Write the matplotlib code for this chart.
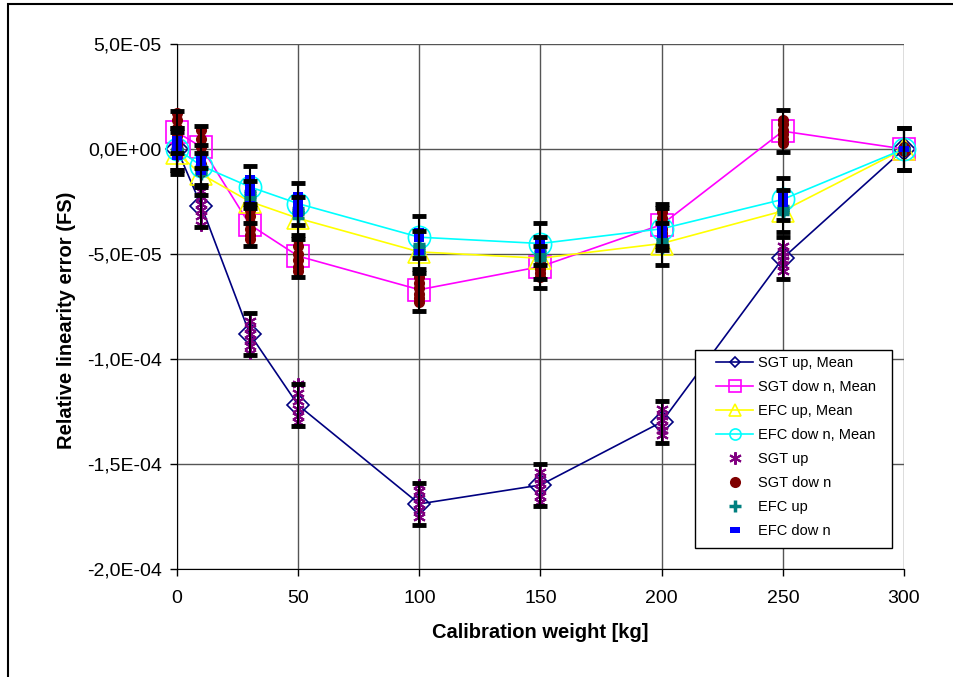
import numpy as np
import matplotlib
matplotlib.use('Agg')
import matplotlib.pyplot as plt
from matplotlib.lines import Line2D
from matplotlib.patches import Rectangle
from matplotlib.ticker import FuncFormatter, MultipleLocator

plt.rcParams['font.family'] = ['Liberation Sans', 'DejaVu Sans']

# all values in units of 1e-5 (FS)
SCALE = 1e-5
weights = [0, 10, 30, 50, 100, 150, 200, 250, 300]

sgt_up_mean = [0.0, -2.7, -8.8, -12.2, -16.9, -16.0, -13.0, -5.2, 0.0]
sgt_down_mean = [0.8, 0.1, -3.6, -5.1, -6.7, -5.6, -3.6, 0.85, 0.0]
efc_up_mean = [-0.2, -1.2, -2.5, -3.3, -4.9, -5.2, -4.5, -2.95, 0.0]
efc_down_mean = [0.0, -0.8, -1.8, -2.6, -4.2, -4.5, -3.8, -2.4, 0.0]
err = 1.0

# single runs, 6 per weight
sgt_up_pts = [[0.3, 0.15, 0.0, -0.1, -0.2, -0.3],
              [-2.0, -2.3, -2.6, -2.9, -3.2, -3.6],
              [-8.2, -8.5, -8.8, -9.1, -9.4, -9.7],
              [-11.2, -11.6, -12.0, -12.4, -12.7, -13.0],
              [-16.0, -16.3, -16.6, -16.9, -17.2, -17.5],
              [-15.4, -15.7, -15.9, -16.2, -16.5, -16.8],
              [-12.4, -12.7, -12.9, -13.2, -13.4, -13.6],
              [-4.6, -4.9, -5.1, -5.3, -5.5, -5.8],
              [0.0, 0.0, 0.0, 0.0, 0.0, 0.0]]
sgt_down_pts = [[1.7, 1.4, 1.0, 0.6, 0.3, 0.0],
                [0.9, 0.5, 0.1, -0.3, -0.7, -1.1],
                [-2.9, -3.2, -3.5, -3.8, -4.1, -4.3],
                [-4.3, -4.6, -5.0, -5.3, -5.6, -5.8],
                [-6.1, -6.4, -6.6, -6.9, -7.1, -7.3],
                [-4.9, -5.2, -5.4, -5.7, -5.9, -6.1],
                [-3.0, -3.3, -3.5, -3.8, -4.0, -4.2],
                [1.4, 1.2, 0.9, 0.7, 0.5, 0.3],
                [0.1, 0.0, 0.0, -0.1, 0.0, 0.0]]
efc_up_pts = [[0.0, -0.1, -0.2, 0.0, -0.1, -0.2],
              [-0.8, -0.9, -1.0, -1.1, -1.2, -1.0],
              [-2.0, -2.1, -2.3, -2.4, -2.5, -2.2],
              [-2.8, -2.9, -3.0, -3.1, -3.3, -3.0],
              [-4.5, -4.6, -4.8, -4.9, -5.0, -4.7],
              [-4.8, -4.9, -5.1, -5.2, -5.3, -5.0],
              [-4.3, -4.4, -4.5, -4.6, -4.7, -4.5],
              [-2.7, -2.8, -2.9, -3.0, -3.1, -2.9],
              [0.0, 0.0, 0.0, 0.0, 0.0, 0.0]]
efc_down_pts = [[0.5, 0.3, 0.1, -0.1, -0.3, -0.4],
                [-0.4, -0.5, -0.7, -0.8, -1.0, -1.1],
                [-1.4, -1.5, -1.7, -1.9, -2.1, -2.6],
                [-2.2, -2.4, -2.5, -2.7, -2.9, -3.1],
                [-3.9, -4.0, -4.1, -4.2, -4.3, -4.9],
                [-4.3, -4.4, -4.5, -4.6, -4.7, -4.8],
                [-3.7, -3.8, -3.9, -3.9, -4.0, -4.1],
                [-2.1, -2.2, -2.3, -2.4, -2.5, -2.6],
                [0.0, 0.0, 0.0, 0.0, 0.0, 0.0]]

mean_labels = ['SGT up, Mean', 'SGT dow n, Mean', 'EFC up, Mean', 'EFC dow n, Mean']
pts_labels = ['SGT up', 'SGT dow n', 'EFC up', 'EFC dow n']

dash = [(-1, -0.55), (1, -0.55), (1, 0.55), (-1, 0.55), (-1, -0.55)]

fig = plt.figure(figsize=(9.54, 6.77), dpi=100)
ax = fig.add_axes([177/954, 1 - 569/677, 727/954, 525/677])

# outer chart frame
fig.add_artist(Rectangle((8/954, -0.1), 1.2, 1.1 - 4/677, transform=fig.transFigure,
                         fill=False, edgecolor='black', lw=1.5))

w = np.array(weights)
means = [sgt_up_mean, sgt_down_mean, efc_up_mean, efc_down_mean]
mstyle = [('#000080', 'D', 11), ('#FF00FF', 's', 16), ('#FFFF00', '^', 16), ('#00FFFF', 'o', 16)]
for m, (c, mk, ms) in zip(means, mstyle):
    ax.plot(w, np.array(m) * SCALE, color=c, lw=1.2, marker=mk, ms=ms,
            mfc='none', mec=c, mew=1.2, zorder=2, clip_on=False)

pts = [sgt_up_pts, sgt_down_pts, efc_up_pts, efc_down_pts]
pstyle = [dict(marker=(6, 2, 0), color='#800080', ms=9, mew=1.5),
          dict(marker='o', color='#800000', ms=8, mew=0),
          dict(marker='+', color='#008080', ms=9, mew=2.5),
          dict(marker=dash, color='#0000FF', ms=7, mew=0)]
for p, st in zip(pts, pstyle):
    xs = np.repeat(w, len(p[0]))
    ys = np.ravel(p) * SCALE
    ax.plot(xs, ys, ls='none', zorder=3, clip_on=False, **st)

for m in means:
    eb = ax.errorbar(w, np.array(m) * SCALE, yerr=err * SCALE, fmt='none', ecolor='black',
                     elinewidth=1.5, capsize=5, capthick=3.5, zorder=4)
    for a in eb.get_children():
        a.set_clip_on(False)

ax.set_xlim(0, 300)
ax.set_ylim(-2e-4, 5e-5)
ax.xaxis.set_major_locator(MultipleLocator(50))
ax.yaxis.set_major_locator(MultipleLocator(5e-5))
ax.yaxis.set_major_formatter(FuncFormatter(lambda v, p: f'{v:.1E}'.replace('.', ',')))
ax.grid(True, color='#555555', lw=1)
ax.set_axisbelow(True)
for s in ['top', 'right']:
    ax.spines[s].set_visible(False)
for s in ['left', 'bottom']:
    ax.spines[s].set_color('black')
ax.tick_params(axis='both', direction='out', length=5, width=1, labelsize=14, colors='black')
ax.tick_params(axis='x', pad=10)
ax.tick_params(axis='y', pad=6)

ax.set_xlabel('Calibration weight [kg]', fontsize=14.5, fontweight='bold')
ax.xaxis.set_label_coords(0.5, (569 - 632) / 525)
ax.xaxis.label.set_va('center')
ax.set_ylabel('Relative linearity error (FS)', fontsize=14.5, fontweight='bold')
ax.yaxis.set_label_coords((66 - 177) / 727, (569 - 320) / 525)
ax.yaxis.label.set_va('center')

# legend: box drawn separately so its padding matches the original
ax.add_patch(Rectangle((695/954, 1 - 548/677), 197/954, 198/677, transform=fig.transFigure,
                       facecolor='white', edgecolor='black', lw=1, zorder=9, clip_on=False))
handles = [Line2D([], [], color=c, lw=1.2, marker=mk, ms=ms / 2, mfc='none', mec=c, mew=1.2)
           for (c, mk, ms) in mstyle]
handles += [Line2D([], [], ls='none', **st) for st in pstyle]
leg = ax.legend(handles, mean_labels + pts_labels, loc='center left',
                bbox_to_anchor=(716/954, 1 - 447/677), bbox_transform=fig.transFigure,
                borderaxespad=0, borderpad=0, fontsize=10.5, labelspacing=0.69,
                handlelength=2.54, handletextpad=0.34, frameon=False)
leg.set_zorder(10)

fig.savefig('out.png', dpi=100)
